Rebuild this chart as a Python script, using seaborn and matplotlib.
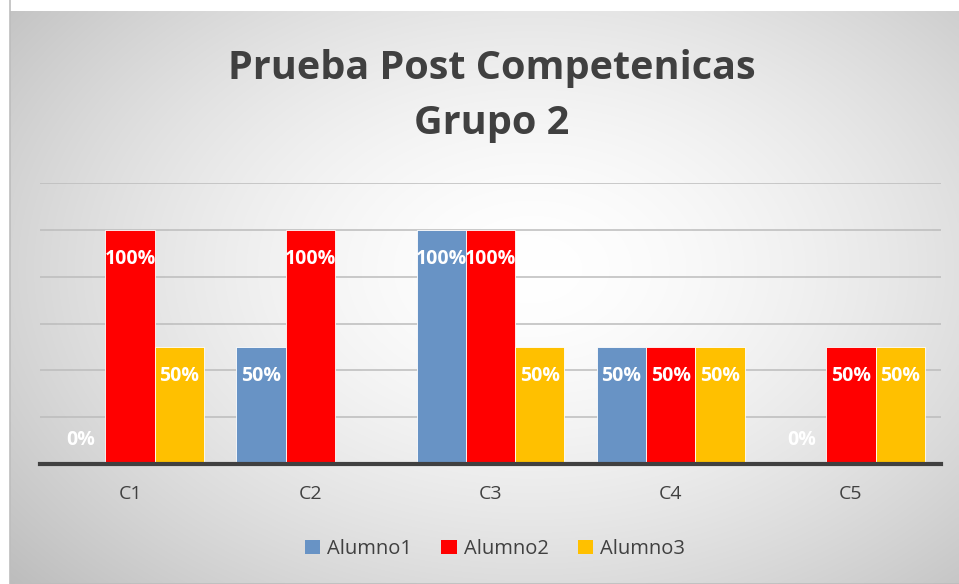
import numpy as np
import pandas as pd
import matplotlib
matplotlib.use("Agg")
import matplotlib.pyplot as plt
import seaborn as sns
from matplotlib.patches import Rectangle

categories = ["C1", "C2", "C3", "C4", "C5"]
series = ["Alumno1", "Alumno2", "Alumno3"]
alumno1 = [0, 50, 100, 50, 0]
alumno2 = [100, 100, 100, 50, 50]
alumno3 = [50, np.nan, 50, 50, 50]
colors = ["#6893C5", "#FF0000", "#FFC000"]

rows = []
for s, vals in zip(series, [alumno1, alumno2, alumno3]):
    for c, v in zip(categories, vals):
        rows.append({"cat": c, "serie": s, "val": v})
df = pd.DataFrame(rows)

sns.set_theme(style="white")
plt.rcParams['font.family'] = ['Open Sans', 'DejaVu Sans']

W, H = 959, 584
fig = plt.figure(figsize=(W / 100, H / 100), dpi=100)
fig.patch.set_facecolor("white")

# gradient background
bg = fig.add_axes([10 / W, 0, (W - 10) / W, (H - 11) / H], zorder=-10)
nx, ny = 400, 240
xx, yy = np.meshgrid(np.linspace(0, 1, nx), np.linspace(0, 1, ny))
cx, cy = 0.55, 0.45
r = np.sqrt(((xx - cx) / 0.75) ** 2 + ((yy - cy) / 0.85) ** 2)
r = np.clip(r, 0, 1)
val = 1 - 0.27 * r ** 1.6
img = np.dstack([val, val, val])
bg.imshow(img, aspect="auto", extent=[0, 1, 1, 0], interpolation="bilinear")
bg.set_xlim(0, 1); bg.set_ylim(1, 0)
bg.axis("off")
bg.add_patch(Rectangle((0, 0), 1.2, 1.2, fill=False, edgecolor="#bdbdbd", lw=1.2, transform=bg.transAxes, clip_on=False))

ax = fig.add_axes([40 / W, (H - 464) / H, 901 / W, (464 - 183) / H])
ax.patch.set_alpha(0)
sns.barplot(data=df, x="cat", y="val", hue="serie", order=categories, hue_order=series,
            palette=colors, width=0.82, ax=ax, edgecolor="white", linewidth=0.6,
            saturation=1, legend=False, errorbar=None)
ax.set_ylim(0, 120)
ax.set_yticks([0, 20, 40, 60, 80, 100, 120])
ax.yaxis.grid(True, color="#bcbcbc", lw=1.1)
ax.set_axisbelow(True)
ax.set_yticklabels([])
ax.tick_params(axis="y", length=0)
ax.tick_params(axis="x", length=0, labelsize=14, labelcolor="#404040", pad=15)
ax.set_xlabel(""); ax.set_ylabel("")
for s in ["top", "right", "left"]:
    ax.spines[s].set_visible(False)
ax.spines["bottom"].set_color("#404040")
ax.spines["bottom"].set_linewidth(3)
ax.spines["bottom"].set_zorder(5)
ax.set_xlim(-0.5, 4.5)

for cont in ax.containers:
    for bar in cont:
        h = bar.get_height()
        if np.isnan(h):
            continue
        xc = bar.get_x() + bar.get_width() / 2
        if h > 0:
            off = -29 * 0.72
        else:
            off = 24 * 0.72
        ax.annotate(f"{int(h)}%", (xc, h), xytext=(0, off), textcoords="offset points",
                    ha="center", va="center", color="white", fontsize=14, fontweight="bold",
                    zorder=6)

fig.text(492 / W, 1 - 96 / H, "Prueba Post Competenicas\nGrupo 2", ha="center", va="center",
         fontsize=28.5, fontweight="bold", color="#404040", linespacing=1.55)

handles = [Rectangle((0, 0), 1, 1, facecolor=c, edgecolor="none") for c in colors]
fig.legend(handles, series, loc="center", bbox_to_anchor=(495 / W, 1 - 549 / H), ncol=3,
           frameon=False, fontsize=14.5, handlelength=0.75, handleheight=0.75,
           handletextpad=0.35, columnspacing=1.45, labelcolor="#404040")

fig.savefig("out.png", dpi=100)
